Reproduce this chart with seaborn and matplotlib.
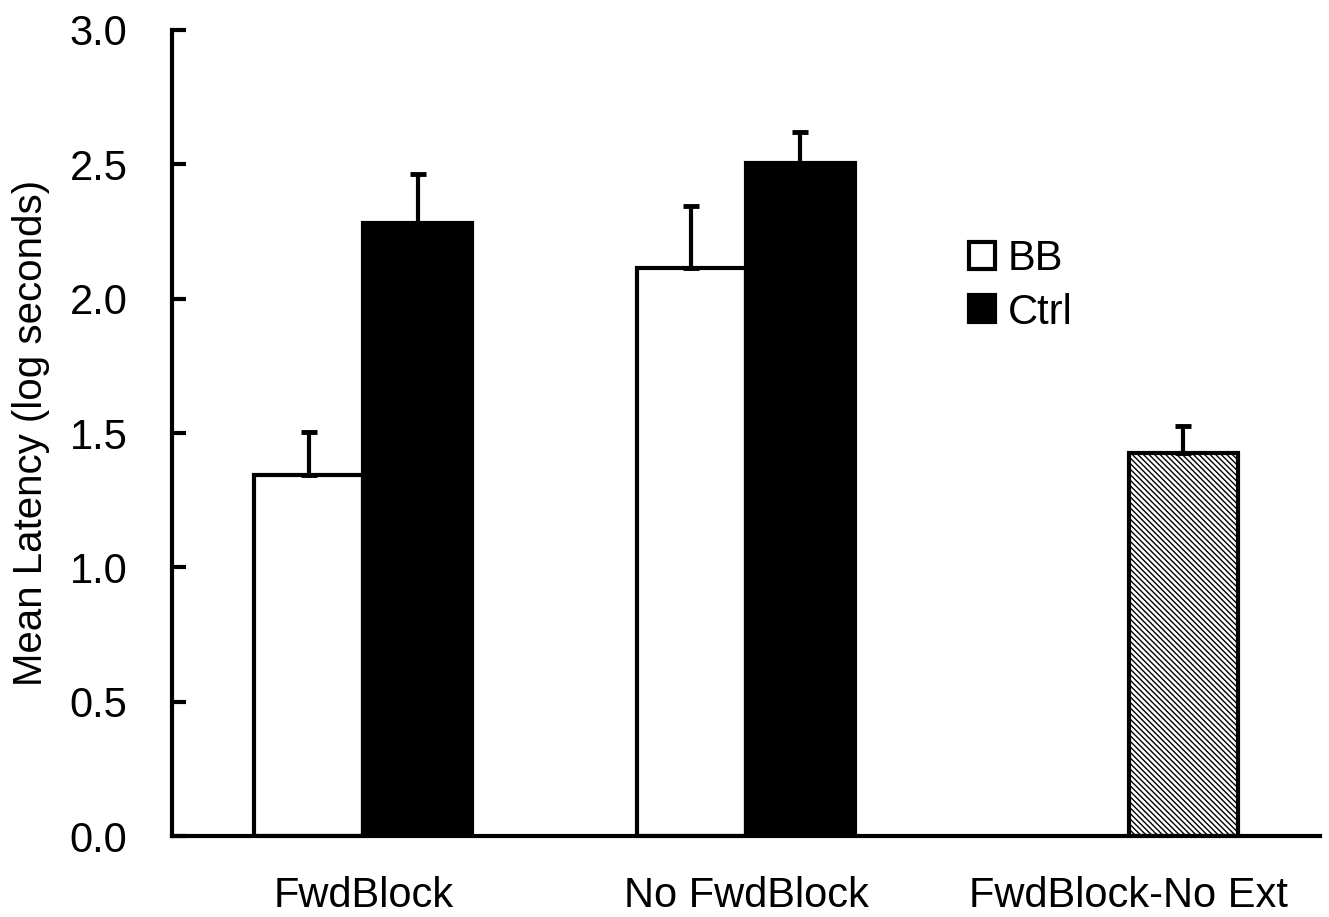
import numpy as np
import pandas as pd
import matplotlib
matplotlib.use("Agg")
import matplotlib.pyplot as plt
import seaborn as sns
from matplotlib.patches import Patch

# ---------------------- DATOS ----------------------
groups = ["FwdBlock", "No FwdBlock", "FwdBlock-No Ext"]
bb_mean = [1.345, 2.115, np.nan]
ctrl_mean = [2.28, 2.505, 1.425]
bb_err = [0.16, 0.23, np.nan]
ctrl_err = [0.185, 0.115, 0.10]
hatched_group = "FwdBlock-No Ext"
# ---------------------------------------------------

df = pd.DataFrame({
    "group": groups * 2,
    "cond": ["BB"] * 3 + ["Ctrl"] * 3,
    "mean": bb_mean + ctrl_mean,
    "err": bb_err + ctrl_err,
})

sns.set_style("ticks")
plt.rcParams["font.family"] = ["Liberation Sans", "DejaVu Sans"]
plt.rcParams["hatch.linewidth"] = 1.0
for key in ["text.color", "axes.labelcolor", "xtick.color", "ytick.color", "axes.edgecolor"]:
    plt.rcParams[key] = "black"

fig = plt.figure(figsize=(13.29, 9.17), dpi=100)
ax = fig.add_axes([0.1294, 0.0883, 0.8638, 0.879])

LW = 3.0
sns.barplot(data=df.dropna(), x="group", y="mean", hue="cond",
            order=groups, hue_order=["BB", "Ctrl"],
            palette={"BB": "white", "Ctrl": "black"},
            edgecolor="black", linewidth=LW, width=0.57,
            errorbar=None, legend=False, ax=ax)

# Barras de error (solo hacia arriba)
for cond, cont in zip(["BB", "Ctrl"], ax.containers):
    sub = df[(df["cond"] == cond)].dropna()
    for bar in cont:
        xc = bar.get_x() + bar.get_width() / 2
        gi = int(round(xc))
        row = sub[sub["group"] == groups[gi]]
        if row.empty:
            continue
        h = row["mean"].values[0]
        e = row["err"].values[0]
        if cond == "Ctrl" and groups[gi] == hatched_group:
            bar.set_facecolor("white")
            bar.set_hatch("\\\\\\\\\\\\")
        ax.errorbar(xc, h, yerr=[[0], [e]], fmt="none", ecolor="black",
                    elinewidth=LW, capsize=5.5, capthick=LW + 0.5, zorder=1)

ax.set_xlim(-0.5, 2.5)
ax.set_ylim(0, 3.0)
ax.set_yticks(np.arange(0, 3.01, 0.5))
ax.set_yticklabels([f"{v:.1f}" for v in np.arange(0, 3.01, 0.5)])
ax.set_xlabel("")
ax.set_ylabel("Mean Latency (log seconds)", fontsize=29, labelpad=14)
ax.tick_params(axis="y", labelsize=30, width=LW, length=10, pad=32, direction="in")
ax.tick_params(axis="x", labelsize=30, length=0, pad=29)
for side in ["left", "bottom"]:
    ax.spines[side].set_linewidth(LW)
sns.despine(ax=ax)

handles = [Patch(facecolor="white", edgecolor="black", linewidth=LW, label="BB"),
           Patch(facecolor="black", edgecolor="black", linewidth=LW, label="Ctrl")]
ax.legend(handles=handles, loc="upper left", bbox_to_anchor=(0.669, 0.777),
          frameon=False, fontsize=30, handlelength=0.62, handleheight=0.62,
          handletextpad=0.3, labelspacing=0.33, borderpad=0.2)

fig.savefig("out.png", dpi=100)
